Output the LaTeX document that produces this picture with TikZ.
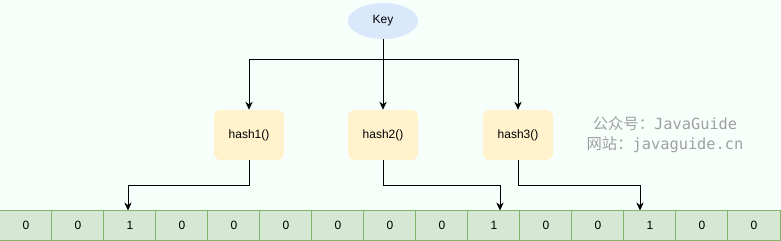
\documentclass[tikz,border=0pt]{standalone}
\usepackage{xcolor}
\usepackage{fontspec}
\setmainfont{Liberation Sans}
\newfontfamily\cjk{Noto Sans CJK SC}
\newfontfamily\wmmono{DejaVu Sans Mono}
\usepackage{tikz}
\usetikzlibrary{shapes.geometric,positioning,arrows.meta}
\definecolor{fundo}{RGB}{247,255,250}
\definecolor{azulchave}{RGB}{218,232,252}
\definecolor{amarelo}{RGB}{255,242,204}
\definecolor{verdebit}{RGB}{213,232,212}
\definecolor{bordabit}{RGB}{130,179,102}
\definecolor{marca}{RGB}{160,160,160}
\tikzset{
  chave/.style={ellipse, fill=azulchave, minimum width=52.5pt, minimum height=27pt,
                inner sep=0pt, font=\fontsize{9}{11}\selectfont},
  funcao/.style={rectangle, rounded corners=5pt, fill=amarelo, minimum width=52.5pt,
                 minimum height=37.5pt, inner sep=0pt, font=\fontsize{9}{11}\selectfont},
  bit/.style={rectangle, draw=bordabit, fill=verdebit, line width=0.8pt,
              minimum width=39.3pt, minimum height=22.5pt, inner sep=0pt, outer sep=0pt,
              font=\fontsize{9}{11}\selectfont},
  seta/.style={-{Stealth[length=6pt, width=5.5pt]}, line width=0.6pt},
}
\begin{document}
\begin{tikzpicture}[x=0.75pt,y=-0.75pt]

    %% ---------- fundo e limites ----------
    \fill[fundo] (0,0) rectangle (781,241);
    \useasboundingbox (0,0) rectangle (781,241);

    %% ---------- chave e funcoes de hash ----------
    \node[chave]  (key) at (383,21)  {Key};
    \node[funcao] (h1)  at (249,135) {hash1()};
    \node[funcao] (h2)  at (383,135) {hash2()};
    \node[funcao] (h3)  at (518,135) {hash3()};

    %% ---------- vetor de bits ----------
    \foreach \b [count=\i from 0] in {0,0,1,0,0,0,0,0,0,1,0,0,1,0,0}
      \node[bit] (c\i) at ({\i*52+26},225.5) {\b};

    %% ---------- ligacoes ----------
    \draw[seta] (key.south) -- ++(0,20) -| (h1.north);
    \draw[seta] (key.south) -- (h2.north);
    \draw[seta] (key.south) -- ++(0,20) -| (h3.north);

    \draw[seta] (h1.south) -- ++(0,25) -| ([xshift=-1.5pt]c2.north);
    \draw[seta] (h2.south) -- ++(0,25) -| ([xshift=4.5pt]c9.north);
    \draw[seta] (h3.south) -- ++(0,25) -| ([xshift=-7.5pt]c12.north);

    %% ---------- marca d'agua ----------
    \node[text=marca, align=center, font=\fontsize{11.5}{15}\selectfont] (marca) at (665,135)
      {{\cjk 公众号：}{\wmmono JavaGuide}\\{\cjk 网站：}{\wmmono javaguide.cn}};

\end{tikzpicture}
\end{document}
